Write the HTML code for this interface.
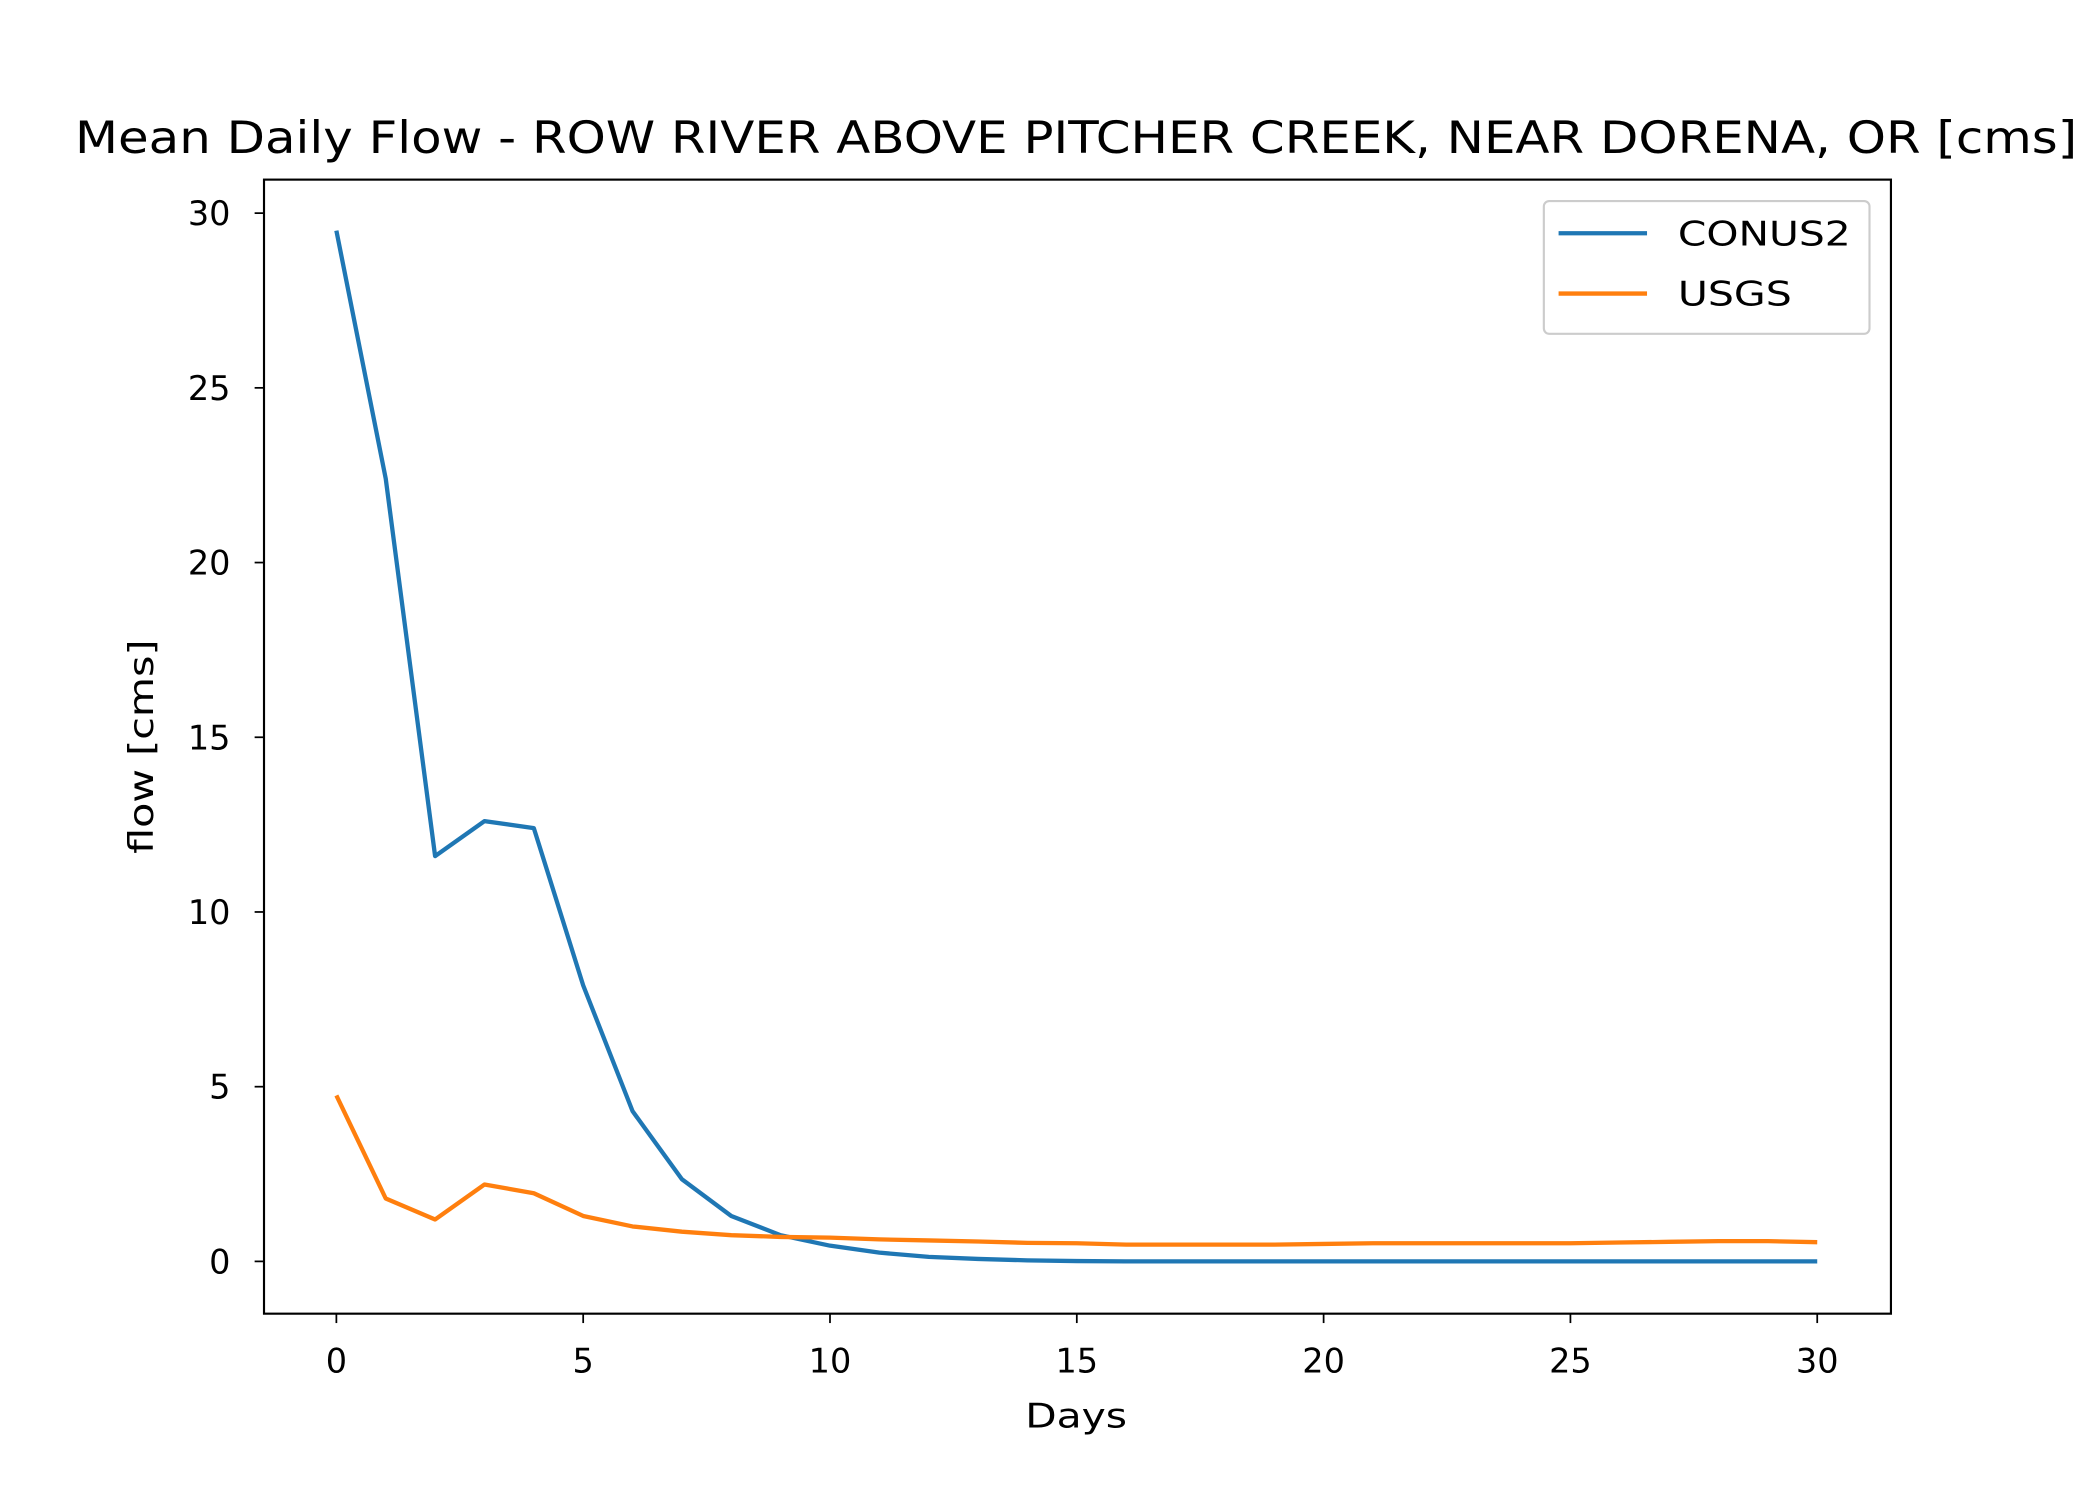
<!DOCTYPE html>
<html><head><meta charset="utf-8"><style>
html,body{margin:0;padding:0;background:#fff;}
svg{display:block;font-family:"DejaVu Sans","Liberation Sans",sans-serif;}
</style></head><body>
<svg id="chart" width="2100" height="1500" viewBox="0 0 1567 1119" preserveAspectRatio="none">
<rect width="1567" height="1119" fill="#fff"/>
<text x="803" y="114" font-size="33" text-anchor="middle" textLength="1494" lengthAdjust="spacingAndGlyphs">Mean Daily Flow - ROW RIVER ABOVE PITCHER CREEK, NEAR DORENA, OR [cms]</text>
<g id="ticks"></g>
<g id="lines"></g>
<rect x="197" y="134" width="1214" height="846" fill="none" stroke="#000" stroke-width="1.6"/>
<text x="803" y="1065" font-size="25" text-anchor="middle" textLength="76" lengthAdjust="spacingAndGlyphs">Days</text>
<text transform="translate(114,557) rotate(-90)" font-size="25" text-anchor="middle" textLength="160" lengthAdjust="spacingAndGlyphs">flow [cms]</text>
<g>
<rect x="1152" y="150" width="243" height="99" rx="4" fill="#fff" stroke="#ccc" stroke-width="1.6"/>
<line x1="1163" y1="174" x2="1229" y2="174" stroke="#1f77b4" stroke-width="3.2"/>
<text x="1252" y="183" font-size="25" textLength="129" lengthAdjust="spacingAndGlyphs">CONUS2</text>
<line x1="1163" y1="219" x2="1229" y2="219" stroke="#ff7f0e" stroke-width="3.2"/>
<text x="1252" y="228" font-size="25" textLength="85" lengthAdjust="spacingAndGlyphs">USGS</text>
</g>
</svg>
<script>
const days = Array.from({length:31},(_,i)=>i);
const conus2 = [29.5,22.4,11.6,12.6,12.4,7.9,4.3,2.35,1.3,0.75,0.45,0.25,0.13,0.07,0.03,0.01,0,0,0,0,0,0,0,0,0,0,0,0,0,0,0];
const usgs = [4.75,1.8,1.2,2.2,1.95,1.3,1.0,0.85,0.75,0.7,0.68,0.63,0.6,0.57,0.53,0.52,0.48,0.48,0.48,0.48,0.5,0.52,0.52,0.52,0.52,0.52,0.54,0.56,0.58,0.58,0.55];
const xTicks = [0,5,10,15,20,25,30];
const yTicks = [0,5,10,15,20,25,30];

const NS='http://www.w3.org/2000/svg';
function xs(v){return 251 + v*(1356-251)/30;}
function ys(v){return 941 - v*(941-159)/30;}
const tg=document.getElementById('ticks');
xTicks.forEach(t=>{
  const l=document.createElementNS(NS,'line');
  l.setAttribute('x1',xs(t));l.setAttribute('x2',xs(t));l.setAttribute('y1',980);l.setAttribute('y2',987);
  l.setAttribute('stroke','#000');l.setAttribute('stroke-width','1.3');
  
  
  tg.appendChild(l);
  const tx=document.createElementNS(NS,'text');
  tx.setAttribute('x',xs(t));tx.setAttribute('y',1024);tx.setAttribute('font-size','25');tx.setAttribute('text-anchor','middle');
  tx.textContent=t;
  
  
  tg.appendChild(tx);
});
yTicks.forEach(t=>{
  const l=document.createElementNS(NS,'line');
  l.setAttribute('x1',190);l.setAttribute('x2',197);l.setAttribute('y1',ys(t));l.setAttribute('y2',ys(t));
  l.setAttribute('stroke','#000');l.setAttribute('stroke-width','1.3');
  
  
  tg.appendChild(l);
  const tx=document.createElementNS(NS,'text');
  tx.setAttribute('x',172);tx.setAttribute('y',ys(t)+9);tx.setAttribute('font-size','25');tx.setAttribute('text-anchor','end');
  tx.textContent=t;
  
  
  tg.appendChild(tx);
});
const lg=document.getElementById('lines');
function drawLine(vals,color,name){
  const p=document.createElementNS(NS,'polyline');
  p.setAttribute('points',vals.map((v,i)=>xs(days[i])+','+ys(v)).join(' '));
  p.setAttribute('fill','none');p.setAttribute('stroke',color);p.setAttribute('stroke-width','3.2');
  p.setAttribute('stroke-linejoin','round');
  
  
  lg.appendChild(p);
}
drawLine(conus2,'#1f77b4','conus2-line');
drawLine(usgs,'#ff7f0e','usgs-line');
</script>
</body></html>
